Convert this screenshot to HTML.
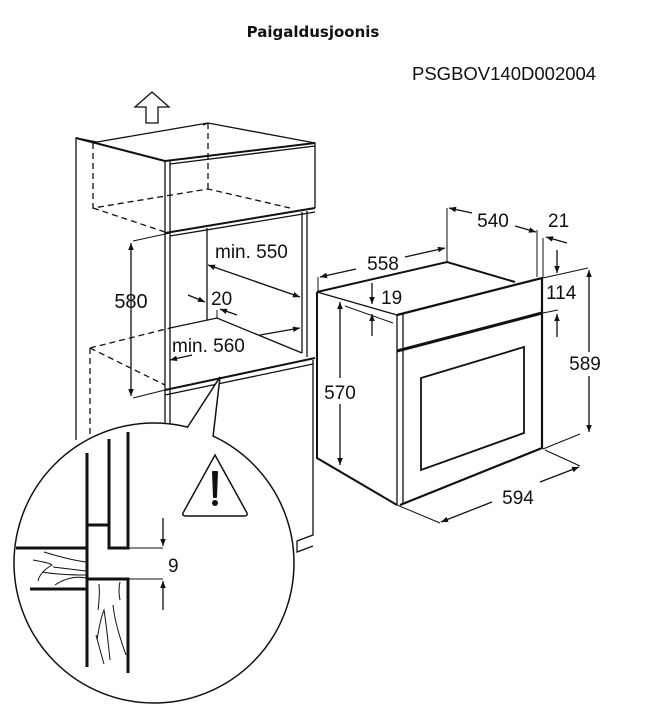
<!DOCTYPE html>
<html><head><meta charset="utf-8"><style>
html,body{margin:0;padding:0;background:#fff;}
svg{display:block;}
text{font-family:"Liberation Sans",Arial,sans-serif;fill:#111;}
</style></head><body>
<svg width="646" height="708" viewBox="0 0 646 708" xmlns="http://www.w3.org/2000/svg">
<defs>
<marker id="a" viewBox="0 0 10 10" refX="10" refY="5" markerWidth="9" markerHeight="7" orient="auto-start-reverse" markerUnits="userSpaceOnUse">
<path d="M0,1 L10,5 L0,9 z" fill="#111"/></marker>
</defs>
<text x="313" y="37" font-size="15" font-weight="bold" text-anchor="middle" style="font-family:'DejaVu Sans',sans-serif">Paigaldusjoonis</text>
<text x="412" y="80" font-size="18.5">PSGBOV140D002004</text>

<!-- up arrow -->
<path d="M152,92 L169,107 L158,107 L158,123 L146,123 L146,107 L135,107 Z" fill="none" stroke="#111" stroke-width="1.3"/>

<g fill="none" stroke="#111" stroke-width="1.3">
<!-- cabinet top -->
<path d="M76,440 L76,138 L97,142"/>
<path d="M97,142 L208,123 L315,143 L315,208"/>
<path d="M76,138 L165,161" stroke-width="2"/>
<path d="M165,161 L315,143" stroke-width="2"/>
<path d="M170,164 L315,146"/>
<path d="M203,125 L208,123"/>
<path d="M165,161 L165,425 M170,161 L170,425"/>
<path d="M165,233 L315,208" stroke-width="2"/>
<path d="M170,236 L315,212"/>
<!-- dashed -->
<g stroke-dasharray="6,4">
<path d="M208,123 L208,189 M93,143 L93,208 L208,189 L290,208 M93,208 L165,232"/>
<path d="M90,348 L170,328 M90,348 L165,385 M90,348 L90,440"/>
</g>
<!-- niche -->
<path d="M207,228 L207,320 M302,212 L302,353 M307,211 L307,357"/>
<path d="M170,328 L217,318 L302,353"/>
<path d="M165,390 L315,358" stroke-width="2"/>
<path d="M165,395 L313,364 M313,360 L313,535 L297,541 L297,552 L313,546"/>
<!-- 580 -->
<path d="M133,241 L170,233 M133,398 L165,390" stroke-width="1"/>
<line x1="131" y1="243" x2="131" y2="396" marker-start="url(#a)" marker-end="url(#a)"/>
<!-- min 550 -->
<line x1="208" y1="265" x2="300" y2="297" marker-start="url(#a)" marker-end="url(#a)"/>
<!-- 20 -->
<line x1="188" y1="295" x2="205" y2="302" marker-end="url(#a)"/>
<line x1="237" y1="315" x2="220" y2="309" marker-end="url(#a)"/>
<path d="M217,310 L217,318" stroke-width="1"/>
<!-- min 560 -->
<line x1="260" y1="335" x2="300" y2="328" marker-end="url(#a)"/>
<line x1="192" y1="355" x2="170" y2="360" marker-end="url(#a)"/>
</g>
<text x="131" y="308" font-size="20" text-anchor="middle">580</text>
<text x="215" y="258" font-size="19">min. 550</text>
<text x="211" y="305" font-size="19">20</text>
<text x="172" y="352" font-size="19">min. 560</text>

<!-- callout circle -->
<circle cx="154" cy="563" r="140" fill="#fff" stroke="#111" stroke-width="1.5"/>
<path d="M187,428 L220,377 L213,437" fill="#fff" stroke="#111" stroke-width="1.5"/>
<path d="M188,430 L212,438" stroke="#fff" stroke-width="3"/>
<!-- warning -->
<path d="M215,455 L247,513 Q248,516 244,516 L186,516 Q182,516 183,513 Z" fill="none" stroke="#111" stroke-width="1.5"/>
<path d="M213,472 L217,472 L216,497 L214,497 Z" fill="#111" stroke="#111" stroke-width="2" stroke-linejoin="round"/>
<circle cx="215" cy="503" r="3" fill="#111"/>
<!-- detail -->
<g fill="none" stroke="#111" stroke-width="3">
<path d="M87,453 L87,667"/>
<path d="M109,439 L109,548 L128,548 L128,432"/>
<path d="M87,525 L109,525"/>
<path d="M16,548 L87,548"/>
<path d="M30,589 L87,589"/>
<path d="M87,579 L128,579 L128,673"/>
</g>
<g fill="none" stroke="#111" stroke-width="1">
<path d="M128,548 L163,548 M128,579 L163,579"/>
<path d="M44,552 Q70,560 86,562 M33,560 Q50,563 52,565 Q40,572 38,581 M53,567 Q70,569 86,571 M55,585 Q70,575 86,578 M42,572 Q60,575 86,575"/>
<path d="M97,640 Q100,620 104,610 Q107,630 110,660 M98,610 Q100,595 99,584 M120,600 Q118,590 120,582 M113,605 Q115,625 126,655 M104,664 Q100,650 96,635"/>
</g>
<line x1="163" y1="518" x2="163" y2="546" stroke="#111" stroke-width="1.3" marker-end="url(#a)"/>
<line x1="163" y1="610" x2="163" y2="581" stroke="#111" stroke-width="1.3" marker-end="url(#a)"/>
<text x="168" y="572" font-size="19">9</text>

<!-- oven -->
<g fill="none" stroke="#111" stroke-width="1.3">
<path d="M317,292 L317,458 L397,505" stroke-width="2"/>
<path d="M317,292 L447,262 L515,282" stroke-width="2"/>
<path d="M317,292 L397,315"/>
<path d="M397,315 L542,278 L542,448 L400,505" stroke-width="2.2"/>
<path d="M397,315 L397,505 M403,314 L403,503"/>
<path d="M397,351 L542,313" stroke-width="3"/>
<path d="M421,378 L524,347 L524,433 L421,470 Z" stroke-width="1.8"/>
<!-- dims -->
<path d="M318,277 L318,291 M447,208 L447,261 M537,230 L537,277 M543,238 L543,277" stroke-width="1"/>
<path d="M543,278 L588,268 M543,313 L558,310 M543,449 L580,434 M545,450 L580,466 M397,505 L440,523 M345,306 L393,323" stroke-width="1"/>
<line x1="356" y1="269" x2="320" y2="277" marker-end="url(#a)"/>
<line x1="405" y1="257" x2="445" y2="248" marker-end="url(#a)"/>
<line x1="472" y1="213" x2="449" y2="208" marker-end="url(#a)"/>
<line x1="515" y1="226" x2="536" y2="232" marker-end="url(#a)"/>
<line x1="567" y1="243" x2="546" y2="237" marker-end="url(#a)"/>
<line x1="557" y1="250" x2="557" y2="273" marker-end="url(#a)"/>
<line x1="557" y1="337" x2="557" y2="314" marker-end="url(#a)"/>
<line x1="589" y1="352" x2="589" y2="270" marker-end="url(#a)"/>
<line x1="589" y1="376" x2="589" y2="432" marker-end="url(#a)"/>
<line x1="340" y1="378" x2="340" y2="302" marker-end="url(#a)"/>
<line x1="340" y1="404" x2="340" y2="465" marker-end="url(#a)"/>
<line x1="372" y1="283" x2="372" y2="304" marker-end="url(#a)"/>
<line x1="372" y1="336" x2="372" y2="314" marker-end="url(#a)"/>
<line x1="492" y1="502" x2="441" y2="522" marker-end="url(#a)"/>
<line x1="540" y1="482" x2="579" y2="467" marker-end="url(#a)"/>
</g>
<text x="383" y="270" font-size="19" text-anchor="middle">558</text>
<text x="493" y="227" font-size="19" text-anchor="middle">540</text>
<text x="548" y="227" font-size="19">21</text>
<text x="546" y="299" font-size="19">114</text>
<text x="585" y="370" font-size="19" text-anchor="middle">589</text>
<text x="340" y="399" font-size="19" text-anchor="middle">570</text>
<text x="381" y="304" font-size="19">19</text>
<text x="518" y="504" font-size="19" text-anchor="middle">594</text>
</svg>
</body></html>
